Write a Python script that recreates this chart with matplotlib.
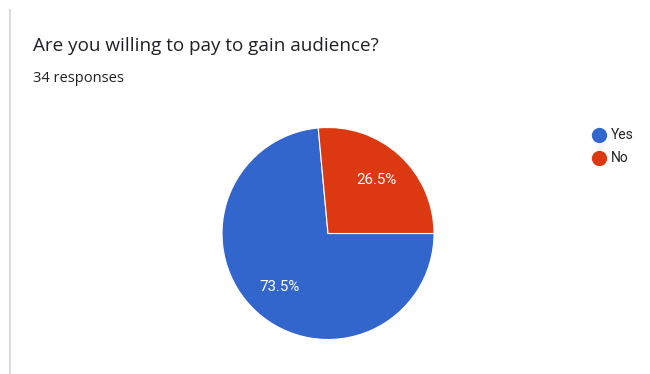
import matplotlib
matplotlib.use("Agg")
import matplotlib.pyplot as plt
from matplotlib.lines import Line2D

plt.rcParams['font.family'] = ['Roboto', 'DejaVu Sans']

title = "Are you willing to pay to gain audience?"
subtitle = "34 responses"
categories = ["Yes", "No"]
counts = [25, 9]
colors = ["#3366cc", "#dc3912"]

W, H = 650, 374
fig = plt.figure(figsize=(W / 100, H / 100), dpi=100)
fig.patch.set_facecolor("white")

# pie axes: centre and radius in pixels
cx, cy, r = 328, 233.5, 106
ax = fig.add_axes([(cx - r) / W, (H - cy - r) / H, 2 * r / W, 2 * r / H])
wedges, _, autotexts = ax.pie(
    counts, colors=colors, startangle=0, counterclock=False,
    autopct=lambda p: f"{p:.1f}%", pctdistance=0.68,
    wedgeprops=dict(edgecolor="white", linewidth=0.8),
    textprops=dict(color="white", fontsize=10.8),
)
ax.set_xlim(-1, 1)
ax.set_ylim(-1, 1)
ax.set_aspect("equal")
ax.axis("off")

# card left border
fig.add_artist(Line2D([10 / W, 10 / W], [0, 1 - 10 / H], transform=fig.transFigure,
                      color="#dadce0", linewidth=1.5))

fig.text(33 / W, 1 - 46 / H, title, fontsize=13.6, color="#202124", va="center", ha="left",
         family=["Open Sans", "DejaVu Sans"])
fig.text(33 / W, 1 - 78 / H, subtitle, fontsize=10.5, color="#202124", va="center", ha="left",
         family=["Open Sans", "DejaVu Sans"])

# legend entries
for i, (lab, col) in enumerate(zip(categories, colors)):
    y = 1 - (135 + 22.5 * i) / H
    fig.add_artist(Line2D([599 / W], [y], transform=fig.transFigure, marker="o",
                          markersize=10, color=col, linestyle="none"))
    fig.text(611 / W, y, lab, fontsize=10, color="#222222", va="center", ha="left")

fig.savefig("out.png", dpi=100)
